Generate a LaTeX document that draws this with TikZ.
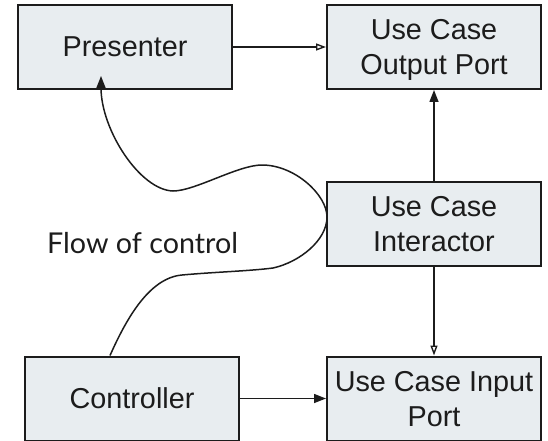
\documentclass[tikz,border=0pt]{standalone}
\usepackage{fontspec}
\setmainfont{Liberation Sans}
\newfontfamily\latofont{Lato}
\usetikzlibrary{arrows.meta,calc}
\definecolor{boxfill}{RGB}{232,237,240}
\definecolor{ink}{RGB}{28,28,28}
\begin{document}
\begin{tikzpicture}[x=1pt,y=-1pt,
  block/.style={draw=ink, line width=2pt, fill=boxfill, inner sep=0pt,
    minimum width=214pt, minimum height=84pt, align=center, text depth=0pt,
    text=ink, font=\fontsize{28.8}{35}\selectfont},
  link/.style={draw=ink, line width=1.4pt},
  opentip/.style={link, -{Triangle[open,length=10pt,width=7pt]}},
  solidtip/.style={link, -{Triangle[length=12pt,width=9pt]}}]
\useasboundingbox (0,0) rectangle (548,441);

% boxes
\node[block] (pres)  at (125,47)    {Presenter};
\node[block] (out)   at (434,47)    {Use Case\\Output Port};
\node[block] (inter) at (434,223.5) {Use Case\\Interactor};
\node[block] (ctrl)  at (132,398.5) {Controller};
\node[block] (inp)   at (434,398.5) {Use Case Input\\Port};

% label of the control flow curve
\node[anchor=base west, inner sep=0pt, text=ink,
      font=\latofont\fontsize{28.7}{34}\selectfont] (flow) at (47,253.3) {Flow of control};

% dependencies
\draw[opentip]  (pres)  -- (out);
\draw[solidtip] (inter) -- (out);
\draw[opentip]  (inter) -- (inp);
\draw[solidtip] (ctrl)  -- (inp);

% flow of control from the controller round to the presenter
\draw[solidtip, line width=1.5pt]
  ($(ctrl.north)+(-22,0)$)
  .. controls (125,322) and (148,278) .. (182,275)
  .. controls (215,272) and (250,271) .. (273,268)
  .. controls (300,262) and (327,240) .. (327,217)
  .. controls (327,195) and (295,165) .. (262,165)
  .. controls (238,165) and (195,191) .. (173,191)
  .. controls (140,190) and (101,130) .. ($(pres.south)+(-24,-14)$);
\end{tikzpicture}
\end{document}
